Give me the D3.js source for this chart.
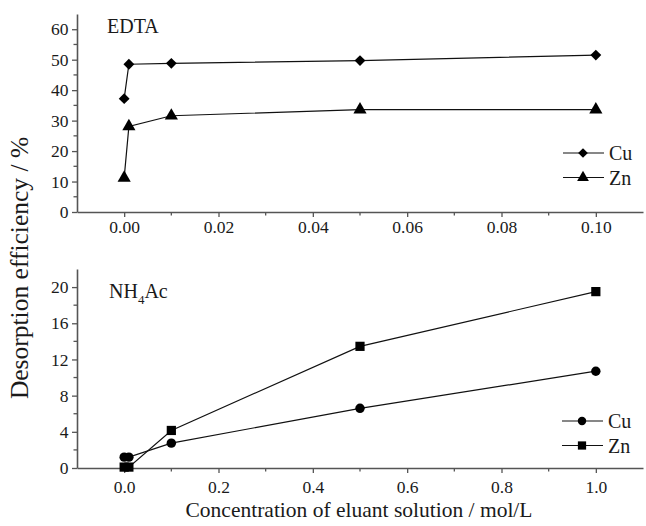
<!DOCTYPE html>
<html>
<head>
<meta charset="utf-8">
<script src="https://cdn.jsdelivr.net/npm/d3@7"></script>
<style>
  body { margin: 0; background: #fff; }
  svg, svg text { font-family: "Liberation Serif", "Times New Roman", serif; }
</style>
</head>
<body>
<div id="chart"></div>
<script>
// EDTA panel
const edtaX = [0, 0.001, 0.01, 0.05, 0.1];
const edtaCu = [37.2, 48.5, 48.8, 49.7, 51.5];
const edtaZn = [11.2, 28.1, 31.6, 33.6, 33.6];
const edtaXTicks = [0, 0.02, 0.04, 0.06, 0.08, 0.1];
const edtaYTicks = [0, 10, 20, 30, 40, 50, 60];

// NH4Ac panel
const nhX = [0, 0.01, 0.1, 0.5, 1.0];
const nhCu = [1.2, 1.2, 2.75, 6.6, 10.7];
const nhZn = [0.1, 0.1, 4.15, 13.45, 19.5];
const nhXTicks = [0, 0.2, 0.4, 0.6, 0.8, 1.0];
const nhYTicks = [0, 4, 8, 12, 16, 20];

const W = 646, H = 526;
const svg = d3.select("#chart").append("svg").attr("width", W).attr("height", H);
const ink = "#1a1a1a";
const serif = '"Liberation Serif", "Times New Roman", serif';

function panel(opt) {
  const x = d3.scaleLinear().domain(opt.xDomain).range([77, 643]);
  const y = d3.scaleLinear().domain(opt.yDomain).range(opt.yRange);
  const g = svg.append("g");

  // x axis: major + minor ticks
  const xa = g.append("g").attr("transform", `translate(0,${opt.yRange[0]})`)
    .call(d3.axisBottom(x).tickValues(opt.xTicks).tickFormat(opt.xFmt).tickSize(5).tickSizeOuter(0).tickPadding(opt.xPad))
    .attr("font-family", null);
  xa.selectAll("text").style("font-family", serif).style("font-size", "17.5px").attr("fill", ink);
  const xMinor = opt.xTicks.map(d => d + opt.xMinor).filter(d => d < opt.xDomain[1]);
  xa.selectAll(".minor").data(xMinor).join("line").attr("class", "minor")
    .attr("x1", d => x(d)).attr("x2", d => x(d)).attr("y1", 0).attr("y2", 3.5);

  // y axis
  const ya = g.append("g").attr("transform", "translate(77,0)")
    .call(d3.axisLeft(y).tickValues(opt.yTicks).tickSize(5).tickSizeOuter(0).tickPadding(3.5))
    .attr("font-family", null);
  ya.selectAll("text").style("font-family", serif).style("font-size", "17.5px").attr("fill", ink);
  const step = opt.yTicks[1] - opt.yTicks[0];
  const yMinor = opt.yTicks.map(d => d + step / 2).filter(d => d < opt.yDomain[1]);
  ya.selectAll(".minor").data(yMinor).join("line").attr("class", "minor")
    .attr("x1", 0).attr("x2", -3.5).attr("y1", d => y(d)).attr("y2", d => y(d));

  g.selectAll(".domain").attr("stroke", "#555").attr("stroke-width", 1.6);
  g.selectAll(".tick line, .minor").attr("stroke", "#555").attr("stroke-width", 1.3);

  const line = d3.line().x(d => x(d[0])).y(d => y(d[1]));
  opt.series.forEach(s => {
    const pts = opt.xs.map((v, i) => [v, s.values[i]]);
    g.append("path").datum(pts).attr("d", line)
      .attr("fill", "none").attr("stroke", "#111").attr("stroke-width", 1.2);
    g.selectAll(null).data(pts).join("path")
      .attr("transform", d => `translate(${x(d[0])},${y(d[1])})`)
      .attr("d", d3.symbol().type(s.symbol).size(s.size))
      .attr("fill", "#000");
  });

  // legend
  opt.series.forEach((s, i) => {
    const ly = opt.legendY + i * 24.5;
    g.append("line").attr("x1", opt.legendX - 20).attr("x2", opt.legendX + 21).attr("y1", ly).attr("y2", ly)
      .attr("stroke", "#111").attr("stroke-width", 1.2);
    g.append("path").attr("transform", `translate(${opt.legendX},${ly})`)
      .attr("d", d3.symbol().type(s.symbol).size(s.size * 0.8)).attr("fill", "#000");
    g.append("text").attr("x", opt.legendX + 26).attr("y", ly).attr("dy", "0.35em")
      .attr("font-size", 20).attr("fill", ink).text(s.name);
  });
  return g;
}

const topPanel = panel({
  xDomain: [-0.01, 0.11], yDomain: [0, 65], yRange: [212, 14],
  xTicks: edtaXTicks, yTicks: edtaYTicks, xFmt: d3.format(".2f"), xMinor: 0.01, xPad: 4,
  xs: edtaX,
  series: [
    { name: "Cu", values: edtaCu, symbol: d3.symbolDiamond2, size: 75 },
    { name: "Zn", values: edtaZn, symbol: d3.symbolTriangle, size: 75 }
  ],
  legendX: 583, legendY: 153
});
topPanel.append("text").attr("x", 107).attr("y", 33).attr("font-size", 20).attr("fill", ink).text("EDTA");

const bottomPanel = panel({
  xDomain: [-0.1, 1.1], yDomain: [0, 22], yRange: [468, 269],
  xTicks: nhXTicks, yTicks: nhYTicks, xFmt: d3.format(".1f"), xMinor: 0.1, xPad: 8,
  xs: nhX,
  series: [
    { name: "Cu", values: nhCu, symbol: d3.symbolCircle, size: 70 },
    { name: "Zn", values: nhZn, symbol: d3.symbolSquare, size: 85 }
  ],
  legendX: 582, legendY: 421
});
const nh = bottomPanel.append("text").attr("x", 109).attr("y", 298).attr("font-size", 20).attr("fill", ink);
nh.append("tspan").text("NH");
nh.append("tspan").attr("font-size", 13).attr("dy", 6).text("4");
nh.append("tspan").attr("dy", -6).text("Ac");

// axis titles
svg.append("text").attr("transform", "translate(28,268) rotate(-90)")
  .attr("text-anchor", "middle").attr("font-size", 25.5).attr("fill", ink)
  .text("Desorption efficiency / %");
svg.append("text").attr("x", 359).attr("y", 517)
  .attr("text-anchor", "middle").attr("font-size", 21.5).attr("fill", ink)
  .text("Concentration of eluant solution / mol/L");
</script>
</body>
</html>
